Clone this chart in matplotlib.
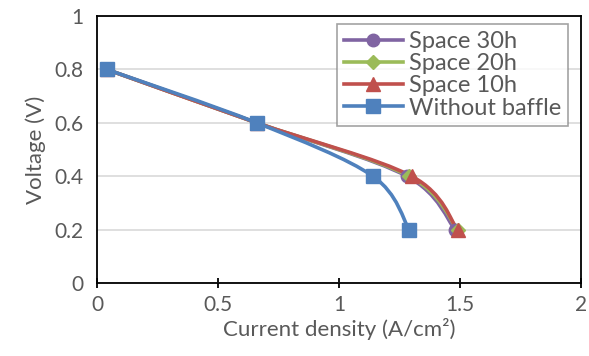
import matplotlib.pyplot as plt
import numpy as np
from matplotlib.path import Path
from matplotlib.patches import PathPatch

plt.rcParams['font.family'] = ['Lato', 'DejaVu Sans']

voltage = [0.8, 0.6, 0.4, 0.2]
space_30h = [0.04, 0.66, 1.28, 1.48]
space_20h = [0.04, 0.66, 1.29, 1.49]
space_10h = [0.04, 0.66, 1.30, 1.49]
without_baffle = [0.04, 0.66, 1.14, 1.29]

series = [
    ('Space 30h', space_30h, '#8064A2', 'o', 9),
    ('Space 20h', space_20h, '#9BBB59', 'D', 7),
    ('Space 10h', space_10h, '#C0504D', '^', 10),
    ('Without baffle', without_baffle, '#4F81BD', 's', 9.5),
]

text_col = '#595959'


def smooth_path(ax, xs, ys):
    # Excel-like smoothed line: Catmull-Rom segments as cubic Beziers in display space
    pts = ax.transData.transform(np.column_stack([xs, ys]))
    n = len(pts)
    verts = [pts[0]]
    codes = [Path.MOVETO]
    for i in range(n - 1):
        p0 = pts[i - 1] if i > 0 else pts[i]
        p1 = pts[i]
        p2 = pts[i + 1]
        p3 = pts[i + 2] if i + 2 < n else pts[i + 1]
        c1 = p1 + (p2 - p0) / 6
        c2 = p2 - (p3 - p1) / 6
        verts += [c1, c2, p2]
        codes += [Path.CURVE4] * 3
    return Path(verts, codes)


fig = plt.figure(figsize=(5.89, 3.56), dpi=100)
ax = fig.add_axes([97 / 589, 1 - 283 / 356, (581 - 97) / 589, (283 - 16) / 356])
ax.set_xlim(0, 2)
ax.set_ylim(0, 1)
ax.set_xticks([0, 0.5, 1, 1.5, 2])
ax.set_xticklabels(['0', '0.5', '1', '1.5', '2'])
ax.set_yticks([0, 0.2, 0.4, 0.6, 0.8, 1])
ax.set_yticklabels(['0', '0.2', '0.4', '0.6', '0.8', '1'])
ax.grid(axis='y', color='#d9d9d9', linewidth=1.2)
ax.set_axisbelow(True)
for s in ax.spines.values():
    s.set_color('black')
    s.set_linewidth(1.3)
ax.tick_params(axis='x', direction='inout', length=7, width=1.3, colors='black',
               labelcolor=text_col, labelsize=15, pad=5)
ax.tick_params(axis='y', length=0, labelcolor=text_col, labelsize=15, pad=10)
ax.set_xlabel('Current density (A/cm²)', color=text_col, fontsize=16, labelpad=2)
ax.set_ylabel('Voltage (V)', color=text_col, fontsize=16, labelpad=6)

fig.canvas.draw()
for label, xs, col, mk, ms in series:
    p = smooth_path(ax, xs, voltage)
    patch = PathPatch(p, facecolor='none', edgecolor=col, linewidth=2.6,
                      transform=None, zorder=3, clip_on=False)
    ax.add_artist(patch)
    ax.plot(xs, voltage, color=col, linewidth=2.6, marker=mk, markersize=ms,
            linestyle='none', label=label, zorder=4, clip_on=False)

handles = [plt.Line2D([], [], color=col, linewidth=2.6, marker=mk, markersize=ms)
           for _, _, col, mk, ms in series]
leg = ax.legend(handles, [s[0] for s in series], loc='upper right',
                bbox_to_anchor=(0.973, 0.97), fontsize=17, frameon=True,
                fancybox=False, edgecolor='#8c8c8c', labelcolor=text_col,
                handlelength=2.5, handletextpad=0.25, borderpad=0.3,
                labelspacing=0.05, borderaxespad=0)
leg.get_frame().set_linewidth(1.2)

fig.savefig('out.png', dpi=100)
